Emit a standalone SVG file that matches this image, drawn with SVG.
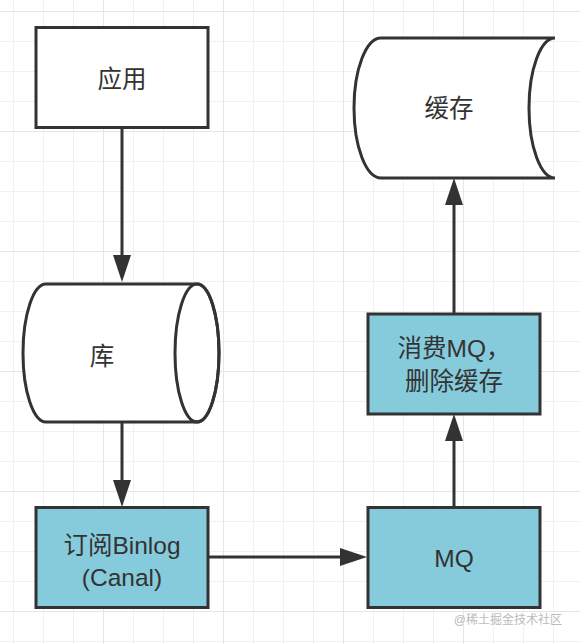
<svg xmlns="http://www.w3.org/2000/svg" width="580" height="644" viewBox="0 0 580 644">
<style>
.shape{stroke:#333;stroke-width:3;}
.white{fill:#fff;}
.blue{fill:#86CBDC;}
.lbl{font-family:"Liberation Sans","Noto Sans CJK SC",sans-serif;font-size:24.5px;fill:#333;text-anchor:middle;dominant-baseline:central;}
.conn{stroke:#333;stroke-width:3;fill:none;}
.wm{font-family:"Liberation Sans","Noto Sans CJK SC",sans-serif;font-size:12px;fill:#bbb;text-anchor:end;}
</style>
<defs>
<pattern id="minor" patternUnits="userSpaceOnUse" x="13" y="11" width="30" height="30">
<path d="M0.5,0 V30 M0,0.5 H30" stroke="#f1f1f1" stroke-width="1" fill="none"/>
</pattern>
<pattern id="major" patternUnits="userSpaceOnUse" x="103" y="11" width="120" height="120">
<path d="M0.5,0 V120 M0,0.5 H120" stroke="#e6e6e6" stroke-width="1" fill="none"/>
</pattern>
<marker id="arr" viewBox="0 0 27 18" refX="7" refY="9" markerWidth="27" markerHeight="18" markerUnits="userSpaceOnUse" orient="auto">
<path d="M0,0 L27,9 L0,18 Z" fill="#333"/>
</marker>
</defs>
<rect width="580" height="644" fill="#fff"/>
<rect width="580" height="644" fill="url(#minor)"/>
<rect width="580" height="644" fill="url(#major)"/>

<g id="connectors">
<path class="conn" d="M122,128 V262" marker-end="url(#arr)"/>
<path class="conn" d="M122,422 V487" marker-end="url(#arr)"/>
<path class="conn" d="M208,557 H347" marker-end="url(#arr)"/>
<path class="conn" d="M454,508 V434" marker-end="url(#arr)"/>
<path class="conn" d="M454,314 V198" marker-end="url(#arr)"/>
</g>

<g id="app">
<rect class="shape white" x="36" y="27.5" width="172" height="100"/>
<text class="lbl" x="122" y="79">应用</text>
</g>

<g id="db">
<path class="shape white" d="M46,284 L197,284 A22,69 0 0 1 197,422 L46,422 A23,69 0 0 1 46,284 Z"/>
<ellipse class="shape" fill="none" cx="197" cy="353" rx="22" ry="69"/>
<text class="lbl" x="102" y="356">库</text>
</g>

<g id="canal">
<rect class="shape blue" x="36" y="507.5" width="172" height="100"/>
<text class="lbl" x="122" y="545">订阅Binlog</text>
<text class="lbl" x="122" y="577">(Canal)</text>
</g>

<g id="mq">
<rect class="shape blue" x="368" y="507.5" width="172" height="100"/>
<text class="lbl" x="454" y="558">MQ</text>
</g>

<g id="consumer">
<rect class="shape blue" x="368" y="314" width="172" height="100"/>
<text class="lbl" x="454" y="348.5">消费MQ，</text>
<text class="lbl" x="454" y="381.5">删除缓存</text>
</g>

<g id="cache">
<path class="shape white" d="M381,38 L555,38 A26,70 0 0 0 555,178 L381,178 A27,70 0 0 1 381,38 Z"/>
<text class="lbl" x="449" y="108">缓存</text>
</g>

<text class="wm" x="562" y="624">@稀土掘金技术社区</text>
</svg>
